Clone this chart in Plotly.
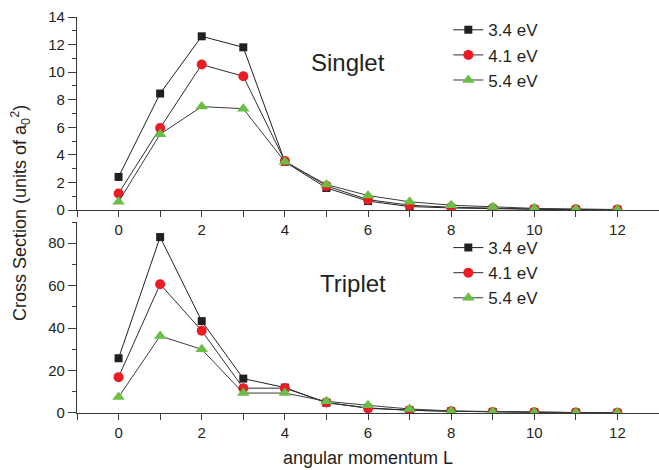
import plotly.graph_objects as go

L = list(range(13))
labels = ["3.4 eV", "4.1 eV", "5.4 eV"]

singlet_34 = [2.4, 8.45, 12.6, 11.8, 3.5, 1.6, 0.65, 0.25, 0.15, 0.08, 0.05, 0.03, 0.02]
singlet_41 = [1.2, 5.95, 10.55, 9.7, 3.55, 1.75, 0.75, 0.35, 0.2, 0.12, 0.08, 0.05, 0.03]
singlet_54 = [0.6, 5.5, 7.5, 7.35, 3.5, 1.85, 1.05, 0.6, 0.35, 0.22, 0.12, 0.07, 0.04]

triplet_34 = [25.8, 82.9, 43.3, 16.2, 12.0, 4.8, 2.4, 1.3, 0.8, 0.5, 0.3, 0.2, 0.1]
triplet_41 = [16.9, 60.7, 38.8, 11.7, 11.7, 5.0, 2.2, 1.3, 0.8, 0.5, 0.3, 0.2, 0.1]
triplet_54 = [7.5, 36.3, 30.0, 9.4, 9.4, 5.5, 3.6, 1.9, 1.0, 0.6, 0.4, 0.25, 0.2]

marker_styles = [
    dict(symbol="square", size=8, color="#231f20"),
    dict(symbol="circle", size=10, color="#ec1c24"),
    dict(symbol="triangle-up", size=11, color="#6abd45"),
]
line_colors = ["#231f20", "#2e2e2e", "#3c3c3c"]

fig = go.Figure()
for i, ys in enumerate([singlet_34, singlet_41, singlet_54]):
    fig.add_trace(go.Scatter(x=L, y=ys, mode="lines+markers", name=labels[i],
                             marker=marker_styles[i], line=dict(color=line_colors[i], width=1),
                             xaxis="x", yaxis="y", legend="legend"))
for i, ys in enumerate([triplet_34, triplet_41, triplet_54]):
    fig.add_trace(go.Scatter(x=L, y=ys, mode="lines+markers", name=labels[i],
                             marker=marker_styles[i], line=dict(color=line_colors[i], width=1),
                             xaxis="x2", yaxis="y2", legend="legend2"))

axcol = "#3a3a3a"
font = "Liberation Sans, Arial, sans-serif"
xcommon = dict(range=[-1, 13], tickvals=list(range(0, 13, 2)), showline=True, linecolor=axcol,
               linewidth=1.2, ticks="outside", ticklen=6, tickcolor=axcol, showgrid=False,
               zeroline=False, tickfont=dict(size=15, color="#231f20"),
               minor=dict(dtick=1, tick0=0, ticks="outside", ticklen=6, tickcolor=axcol, showgrid=False))

fig.update_layout(
    width=659, height=470,
    margin=dict(l=77, r=0, t=17, b=57),
    paper_bgcolor="white", plot_bgcolor="white",
    font=dict(family=font, color="#231f20"),
    xaxis=dict(domain=[0, 1], anchor="y", **xcommon),
    xaxis2=dict(domain=[0, 1], anchor="y2", **xcommon),
    yaxis=dict(domain=[0.5126, 1], range=[0, 14], dtick=2, showline=True, linecolor=axcol,
               linewidth=1.2, ticks="outside", ticklen=8, tickcolor=axcol, showgrid=False,
               zeroline=False, tickfont=dict(size=15, color="#231f20"),
               minor=dict(dtick=1, ticks="outside", ticklen=4, tickcolor=axcol, showgrid=False)),
    yaxis2=dict(domain=[0, 0.4823], range=[0, 90], dtick=20, showline=True, linecolor=axcol,
                linewidth=1.2, ticks="outside", ticklen=8, tickcolor=axcol, showgrid=False,
                zeroline=False, tickfont=dict(size=15, color="#231f20"),
                minor=dict(dtick=10, ticks="outside", ticklen=4, tickcolor=axcol, showgrid=False)),
    legend=dict(x=0.638, y=1.012, xanchor="left", yanchor="top", bgcolor="rgba(0,0,0,0)",
                font=dict(size=17), tracegroupgap=0),
    legend2=dict(x=0.638, y=0.462, xanchor="left", yanchor="top", bgcolor="rgba(0,0,0,0)",
                 font=dict(size=17), tracegroupgap=0),
    annotations=[
        dict(text="Singlet", x=5.53, y=10.7, xref="x", yref="y", showarrow=False,
             font=dict(size=24)),
        dict(text="Triplet", x=5.65, y=61.2, xref="x2", yref="y2", showarrow=False,
             font=dict(size=24)),
        dict(text="Cross Section (units of a<sub>0</sub><sup>2</sup>)", x=-0.098, y=0.505,
             xref="paper", yref="paper", showarrow=False, textangle=-90,
             xanchor="center", yanchor="middle", font=dict(size=18)),
        dict(text="angular momentum L", x=0.5, y=-0.1136, xref="paper", yref="paper",
             showarrow=False, xanchor="center", yanchor="middle", font=dict(size=18)),
    ],
)

fig.write_html("out.html")
